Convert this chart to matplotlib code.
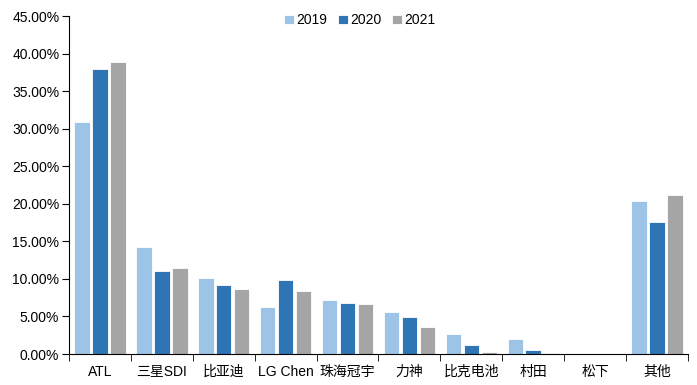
import matplotlib
matplotlib.use("Agg")
import matplotlib.pyplot as plt
from matplotlib.ticker import FuncFormatter, FixedLocator
import numpy as np

plt.rcParams['font.family'] = ['Liberation Sans Narrow', 'Liberation Sans', 'Noto Sans CJK SC', 'DejaVu Sans']

categories = ['ATL', '三星SDI', '比亚迪', 'LG Chen', '珠海冠宇', '力神', '比克电池', '村田', '松下', '其他']
series_names = ['2019', '2020', '2021']
share_2019 = [30.9, 14.2, 10.1, 6.2, 7.2, 5.55, 2.6, 2.0, 0.05, 20.4]
share_2020 = [37.95, 11.1, 9.15, 9.8, 6.85, 4.9, 1.2, 0.5, 0.05, 17.6]
share_2021 = [38.85, 11.4, 8.65, 8.35, 6.65, 3.6, 0.3, 0.2, 0.05, 21.2]
colors = ['#9DC3E6', '#2E75B6', '#A5A5A5']

fig = plt.figure(figsize=(6.97, 3.85), dpi=100)
ax = fig.add_axes([0.099, 0.0805, 0.888, 0.8775])

x = np.arange(len(categories))
width = 0.25
offsets = [-0.29, 0.0, 0.29]
for vals, off, col, name in zip([share_2019, share_2020, share_2021], offsets, colors, series_names):
    ax.bar(x + off, np.array(vals) / 100, width, color=col, edgecolor='white', linewidth=0.6, label=name)

ax.set_xlim(-0.5, len(categories) - 0.5)
ax.set_ylim(0, 0.45)
ax.set_yticks(np.arange(0, 0.451, 0.05))
ax.yaxis.set_major_formatter(FuncFormatter(lambda v, p: f'{v * 100:.2f}%'))

ax.set_xticks(x)
ax.set_xticklabels(categories, family=['Liberation Sans Narrow', 'Liberation Sans', 'Noto Sans CJK SC', 'DejaVu Sans'])
ax.xaxis.set_minor_locator(FixedLocator(np.arange(-0.5, len(categories), 1.0)))
ax.tick_params(axis='x', which='major', length=0, pad=8, labelsize=10)
ax.tick_params(axis='x', which='minor', length=5, direction='out', color='black')
ax.tick_params(axis='y', length=5, direction='out', labelsize=10, pad=2)

for s in ['top', 'right']:
    ax.spines[s].set_visible(False)
ax.spines['left'].set_color('black')
ax.spines['bottom'].set_color('black')

ax.legend(loc='upper center', bbox_to_anchor=(0.47, 1.045), ncol=3, frameon=False,
          handlelength=0.7, handleheight=0.7, handletextpad=0.15, columnspacing=0.8, fontsize=10)

fig.savefig('out.png', dpi=100)
